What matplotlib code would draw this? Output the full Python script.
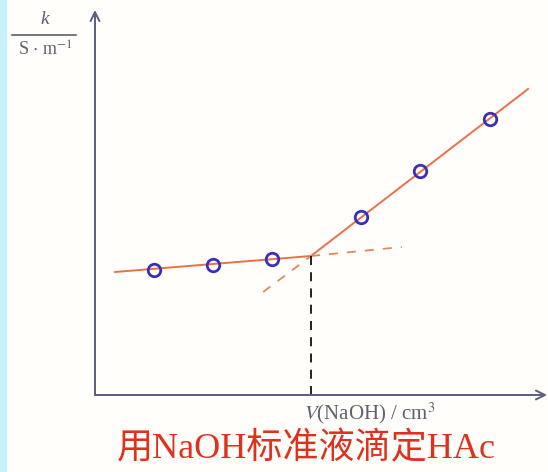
import matplotlib
matplotlib.use('Agg')
import matplotlib.pyplot as plt
from matplotlib.patches import Rectangle

plt.rcParams['mathtext.fontset'] = 'stix'

# ─── Data (V in cm3, k in S/m, arbitrary units) ───
volume = [1.0, 2.0, 3.0, 4.5, 5.5, 6.7]
conductivity = [2.50, 2.60, 2.72, 3.56, 4.48, 5.52]

v_eq = 3.66
k_eq = 2.78

# fitted lines: solid parts and dashed extensions
left_solid_v = [0.34, v_eq]
left_solid_k = [2.46, k_eq]
left_dash_v = [v_eq, 5.2]
left_dash_k = [k_eq, 2.96]
right_solid_v = [v_eq, 7.34]
right_solid_k = [k_eq, 6.12]
right_dash_v = [2.85, v_eq]
right_dash_k = [2.06, k_eq]

W, H = 548, 472
fig = plt.figure(figsize=(W / 100, H / 100), dpi=100, facecolor='#fffefa')
fig.patches.append(Rectangle((0, 0), 6 / W, 1, transform=fig.transFigure,
                             color='#c8f0fa', zorder=0))

ax = fig.add_axes([95 / W, 77 / H, 452 / W, 385 / H])
ax.set_facecolor('none')
ax.set_xlim(0, 452 / 59)
ax.set_ylim(0, 385 / 50)
for s in ax.spines.values():
    s.set_visible(False)
ax.set_xticks([])
ax.set_yticks([])

axis_c = '#5c5c80'
ax.annotate('', xy=(1, 0), xytext=(0, 0), xycoords='axes fraction',
            arrowprops=dict(arrowstyle='->', color=axis_c, lw=1.4,
                            shrinkA=0, shrinkB=0, mutation_scale=16))
ax.annotate('', xy=(0, 1), xytext=(0, 0), xycoords='axes fraction',
            arrowprops=dict(arrowstyle='->', color=axis_c, lw=1.4,
                            shrinkA=0, shrinkB=0, mutation_scale=16))

line_c = '#e8704a'
ax.plot(left_solid_v, left_solid_k, color=line_c, lw=1.4)
ax.plot(right_solid_v, right_solid_k, color=line_c, lw=1.4)
ax.plot(left_dash_v, left_dash_k, color='#e0885c', lw=1.3, ls=(0, (5, 5)))
ax.plot(right_dash_v, right_dash_k, color='#e0885c', lw=1.3, ls=(0, (5, 5)))
ax.plot([v_eq, v_eq], [0, k_eq], color='#111111', lw=1.3, ls=(0, (5, 4)))

ax.plot(volume, conductivity, 'o', ms=9, mfc='none', mec='#3a30b8', mew=2,
        zorder=5)

# ─── Labels ───
txt_c = '#606070'
serif = ['Liberation Serif', 'DejaVu Serif']
fig.text(45 / W, 1 - 20 / H, 'k', style='italic', fontsize=14, color=txt_c,
         family=serif, ha='center', va='center')
fig.add_artist(plt.Line2D([12 / W, 76 / W], [1 - 35 / H, 1 - 35 / H],
                          color=txt_c, lw=1.2))
fig.text(45 / W, 1 - 50 / H, r'S $\cdot$ m$^{-1}$', fontsize=13, color=txt_c,
         family=serif, ha='center', va='center')

fig.text(370 / W, 1 - 413 / H, r'$V$(NaOH) / cm$^{\rm{3}}$', fontsize=15,
         color=txt_c, family=serif, ha='center', va='center')

fig.text(306 / W, 1 - 449 / H, '用NaOH标准液滴定HAc', fontsize=26,
         color='#e0301e', family=['Liberation Serif', 'Noto Sans CJK SC'],
         ha='center', va='center')

fig.savefig('out.png', dpi=100, facecolor=fig.get_facecolor())
